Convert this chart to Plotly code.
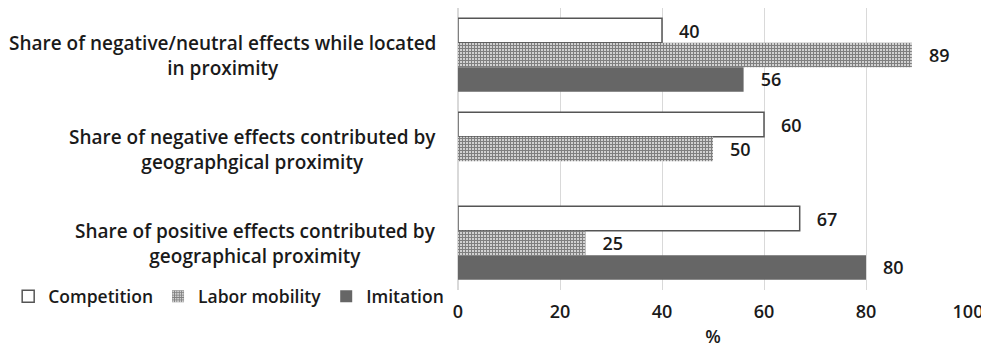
import plotly.graph_objects as go

categories = [
    "Share of negative/neutral effects while located<br>in proximity",
    "Share of negative effects contributed by<br>geographgical proximity",
    "Share of positive effects contributed by<br>geographical proximity",
]
competition = [40, 60, 67]
labor_mobility = [89, 50, 25]
imitation = [56, None, 80]
x_ticks = [0, 20, 40, 60, 80, 100]

FONT = "Open Sans"
TXT = dict(family=FONT, size=18, color="#1a1a1a", weight=600)
LEG = dict(family=FONT, size=17.5, color="#1a1a1a", weight=600)
CAT = dict(family=FONT, size=19, color="#1a1a1a", weight=600)
LBL = "\u00a0\u00a0\u00a0%{x}"

fig = go.Figure()
fig.add_trace(go.Bar(
    name="Competition", y=categories, x=competition, orientation="h",
    marker=dict(color="white", line=dict(color="#555555", width=1.5)),
    texttemplate=LBL, textposition="outside", textfont=TXT, cliponaxis=False,
))
fig.add_trace(go.Bar(
    name="Labor mobility", y=categories, x=labor_mobility, orientation="h",
    marker=dict(color="white", line=dict(width=0),
                pattern=dict(shape="+", fgcolor="#000000", bgcolor="white", size=3, solidity=0.68)),
    texttemplate=LBL, textposition="outside", textfont=TXT, cliponaxis=False,
))
fig.add_trace(go.Bar(
    name="Imitation", y=categories, x=imitation, orientation="h",
    marker=dict(color="#666666", line=dict(width=0)),
    texttemplate=LBL, textposition="outside", textfont=TXT, cliponaxis=False,
))

for c in categories:
    fig.add_annotation(x=-0.039, y=c, xref="paper", yref="y", text=c,
                       xanchor="right", yanchor="middle", align="center",
                       showarrow=False, font=CAT)

fig.update_layout(
    width=981, height=340,
    margin=dict(l=450, r=21, t=0, b=58),
    paper_bgcolor="white", plot_bgcolor="white",
    barmode="group", bargap=0.22, bargroupgap=0,
    font=TXT,
    uniformtext=dict(minsize=14, mode="show"),
    xaxis=dict(range=[0, 100], tickvals=x_ticks, showgrid=True, gridcolor="#d9d9d9",
               gridwidth=1, zeroline=True, zerolinecolor="#d9d9d9", showline=False,
               ticklabelstandoff=9,
               title=dict(text="%", standoff=10, font=TXT), ticks="", tickfont=TXT),
    yaxis=dict(autorange="reversed", showticklabels=False, showgrid=False, ticks=""),
    legend=dict(orientation="h", x=-0.882, xanchor="left", y=0.041, yanchor="top",
                font=LEG, itemwidth=30, bgcolor="rgba(0,0,0,0)"),
    showlegend=True,
)
fig.write_html("out.html")
